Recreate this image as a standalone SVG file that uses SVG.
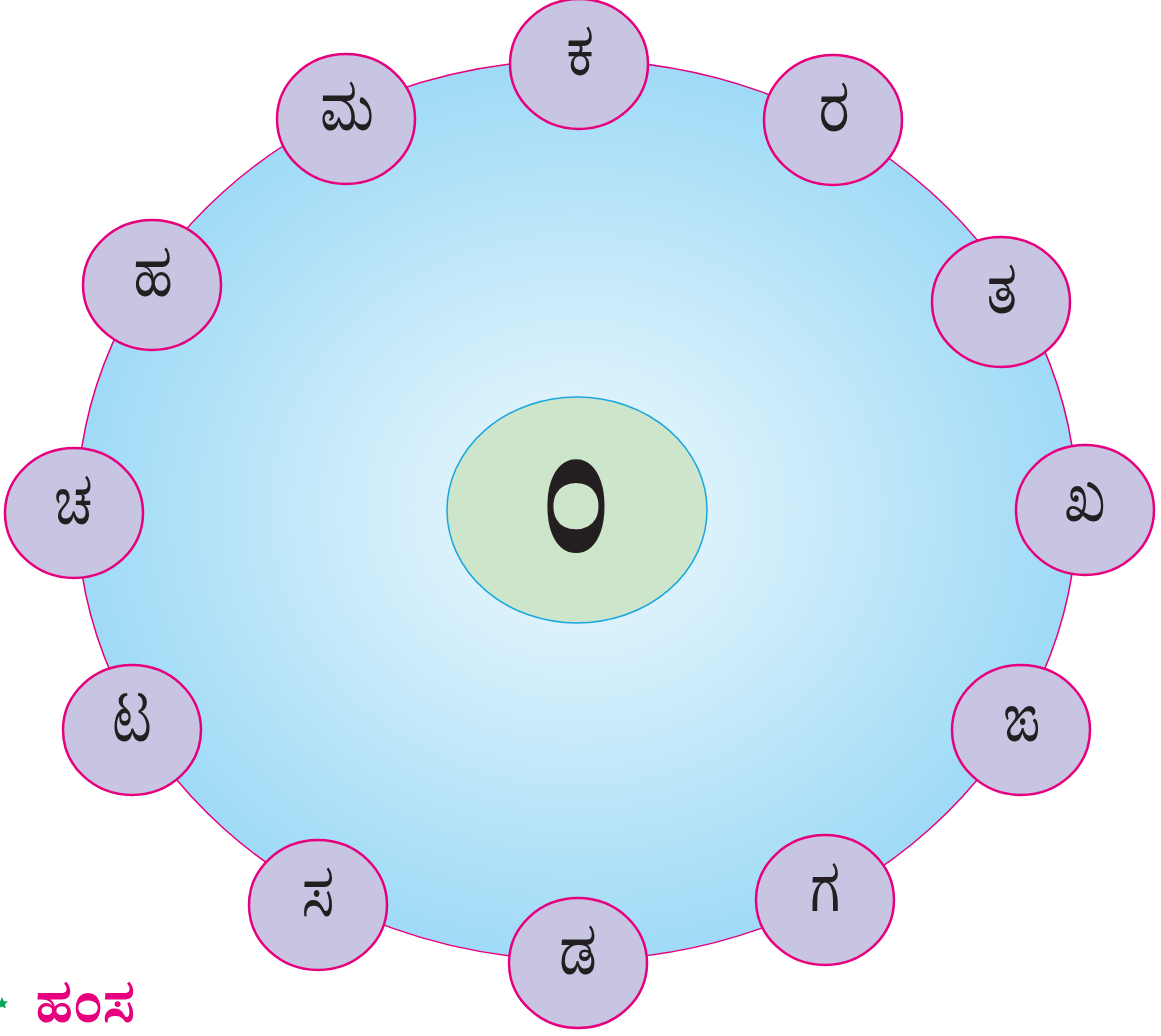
<svg xmlns="http://www.w3.org/2000/svg" width="1161" height="1036" viewBox="0 0 1161 1036">
<defs>
<radialGradient id="bg" cx="50%" cy="50%" r="50%">
<stop offset="0" stop-color="#f0fafe"/>
<stop offset="1" stop-color="#9fdaf6"/>
</radialGradient>
<style>
.n{fill:#c8c5e2;stroke:#e6007e;stroke-width:2.5}
.t{font-family:"Noto Serif Kannada","Noto Sans Kannada","Noto Sans",sans-serif;font-size:48px;fill:#231f20;text-anchor:middle;dominant-baseline:central}
</style>
</defs>
<rect width="1161" height="1036" fill="#ffffff"/>
<g id="outer">
<ellipse cx="577" cy="510" rx="500" ry="450" fill="url(#bg)" stroke="#e6007e" stroke-width="1.5"/>
</g>
<g id="connectors"></g>
<g id="center">
<ellipse cx="577" cy="510" rx="130" ry="113" fill="#cde5cb" stroke="#1aa7e0" stroke-width="1.5"/>
<text class="t" transform="translate(562,535) scale(1,1.45)" style="font-size:112px;font-weight:bold">&#160;ಂ</text>
</g>
<g id="n1"><ellipse class="n" cx="579" cy="64" rx="69" ry="65"/><text class="t" transform="translate(580,68) scale(1.05,1.3)">ಕ</text></g>
<g id="n2"><ellipse class="n" cx="833" cy="120" rx="69" ry="65"/><text class="t" transform="translate(834,124) scale(1.05,1.3)">ರ</text></g>
<g id="n3"><ellipse class="n" cx="1001" cy="302" rx="69" ry="65"/><text class="t" transform="translate(1002,306) scale(1.05,1.3)">ತ</text></g>
<g id="n4"><ellipse class="n" cx="1085" cy="510" rx="69" ry="65"/><text class="t" transform="translate(1085,514) scale(1.05,1.3)">ಖ</text></g>
<g id="n5"><ellipse class="n" cx="1021" cy="730" rx="69" ry="65"/><text class="t" transform="translate(1022,734) scale(1.05,1.3)">ಙ</text></g>
<g id="n6"><ellipse class="n" cx="825" cy="900" rx="69" ry="65"/><text class="t" transform="translate(825,904) scale(1.05,1.3)">ಗ</text></g>
<g id="n7"><ellipse class="n" cx="578" cy="963" rx="69" ry="65"/><text class="t" transform="translate(578,967) scale(1.05,1.3)">ಡ</text></g>
<g id="n8"><ellipse class="n" cx="318" cy="905" rx="69" ry="65"/><text class="t" transform="translate(318,909) scale(1.05,1.3)">ಸ</text></g>
<g id="n9"><ellipse class="n" cx="132" cy="730" rx="69" ry="65"/><text class="t" transform="translate(132,734) scale(1.05,1.3)">ಟ</text></g>
<g id="n10"><ellipse class="n" cx="74" cy="513" rx="69" ry="65"/><text class="t" transform="translate(74,517) scale(1.05,1.3)">ಚ</text></g>
<g id="n11"><ellipse class="n" cx="152" cy="285" rx="69" ry="65"/><text class="t" transform="translate(153,289) scale(1.05,1.3)">ಹ</text></g>
<g id="n12"><ellipse class="n" cx="346" cy="119" rx="69" ry="65"/><text class="t" transform="translate(347,123) scale(1.05,1.3)">ಮ</text></g>
<g id="answer">
<polygon points="2,997 3.8,1001.2 8,1001.6 4.8,1004.4 5.8,1008.6 2,1006.4 -1.8,1008.6 -0.8,1004.4 -4,1001.6 0.2,1001.2" fill="#00a651"/>
<text transform="translate(35,1022) scale(1.05,1.12)" style="font-family:'Noto Serif Kannada','Noto Sans Kannada','Noto Sans',sans-serif;font-size:46px;font-weight:bold;fill:#e6007e">ಹಂಸ</text>
</g>
</svg>
